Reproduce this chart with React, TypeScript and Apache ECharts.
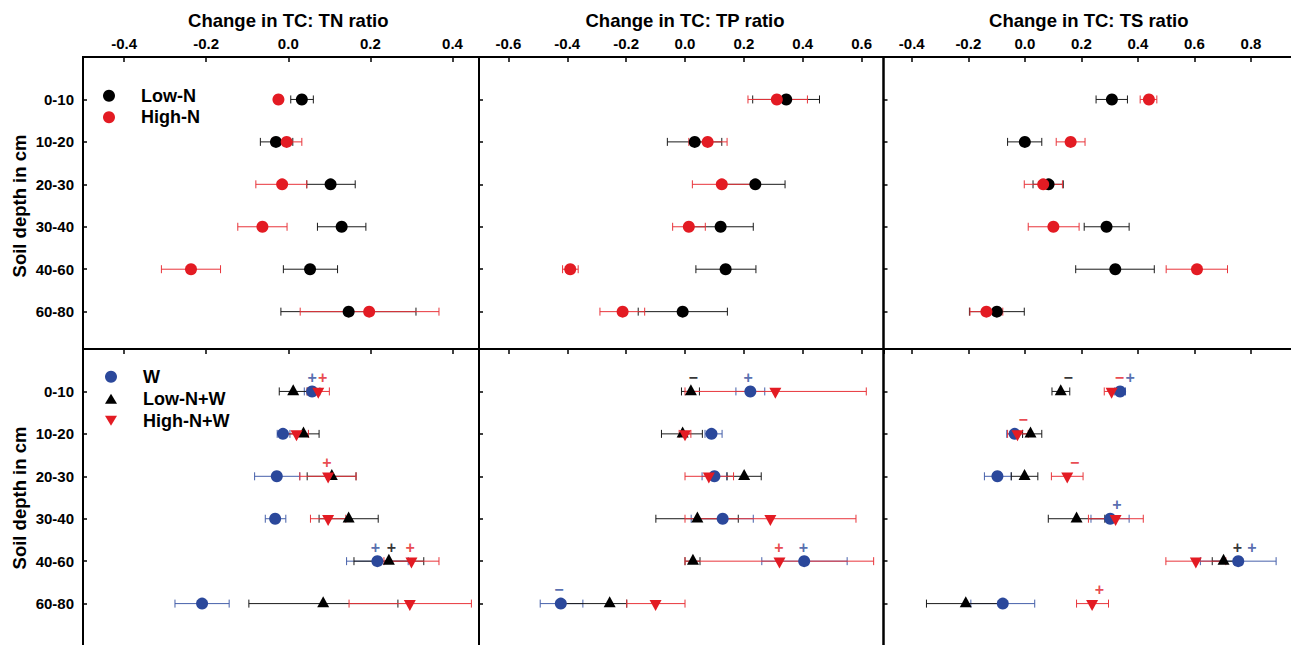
import React, { useEffect, useRef } from 'react';
import * as echarts from 'echarts';

const FONT = '"Liberation Sans", Arial, Helvetica, sans-serif';

// ---------- categories / labels ----------
const depths = ['0-10', '10-20', '20-30', '30-40', '40-60', '60-80'];
const depthPos = [1, 2, 3, 4, 5, 6];
const panelTitles = ['Change in TC: TN ratio', 'Change in TC: TP ratio', 'Change in TC: TS ratio'];
const yAxisTitle = 'Soil depth in cm';

// ---------- top row: N addition ----------
const tnLowN = [0.033, -0.030, 0.103, 0.130, 0.053, 0.147];
const tnLowNLo = [0.006, -0.068, 0.045, 0.071, -0.012, -0.018];
const tnLowNHi = [0.061, 0.011, 0.163, 0.189, 0.120, 0.311];
const tnHighN = [-0.024, -0.004, -0.015, -0.063, -0.237, 0.197];
const tnHighNLo = [-0.032, -0.040, -0.079, -0.123, -0.309, 0.029];
const tnHighNHi = [-0.016, 0.033, 0.045, -0.003, -0.165, 0.367];

const tpLowN = [0.344, 0.033, 0.239, 0.121, 0.138, -0.008];
const tpLowNLo = [0.230, -0.060, 0.138, 0.010, 0.037, -0.159];
const tpLowNHi = [0.457, 0.125, 0.340, 0.232, 0.241, 0.144];
const tpHighN = [0.312, 0.077, 0.125, 0.013, -0.390, -0.212];
const tpHighNLo = [0.214, 0.013, 0.025, -0.042, -0.416, -0.289];
const tpHighNHi = [0.416, 0.143, 0.225, 0.069, -0.363, -0.137];

const tsLowN = [0.308, 0.000, 0.084, 0.289, 0.320, -0.099];
const tsLowNLo = [0.252, -0.061, 0.029, 0.210, 0.180, -0.196];
const tsLowNHi = [0.363, 0.060, 0.136, 0.369, 0.458, -0.002];
const tsHighN = [0.439, 0.162, 0.065, 0.101, 0.609, -0.136];
const tsHighNLo = [0.408, 0.111, -0.002, 0.012, 0.500, -0.194];
const tsHighNHi = [0.467, 0.213, 0.133, 0.192, 0.717, -0.078];

// ---------- bottom row: water (+N) ----------
const tnW = [0.058, -0.013, -0.028, -0.032, 0.217, -0.210];
const tnWLo = [0.039, -0.027, -0.082, -0.056, 0.142, -0.276];
const tnWHi = [0.077, 0.004, 0.028, -0.006, 0.292, -0.144];
const tnLowNW = [0.012, 0.037, 0.106, 0.147, 0.245, 0.085];
const tnLowNWLo = [-0.022, -0.006, 0.046, 0.075, 0.160, -0.096];
const tnLowNWHi = [0.046, 0.075, 0.165, 0.219, 0.330, 0.267];
const tnHighNW = [0.073, 0.020, 0.097, 0.097, 0.300, 0.296];
const tnHighNWLo = [0.046, -0.009, 0.028, 0.054, 0.233, 0.148];
const tnHighNWHi = [0.100, 0.049, 0.165, 0.140, 0.367, 0.446];

const tpW = [0.222, 0.090, 0.100, 0.128, 0.405, -0.422];
const tpWLo = [0.173, 0.068, 0.058, 0.021, 0.261, -0.492];
const tpWHi = [0.271, 0.126, 0.142, 0.232, 0.551, -0.347];
const tpLowNW = [0.020, -0.008, 0.201, 0.042, 0.027, -0.256];
const tpLowNWLo = [-0.012, -0.080, 0.143, -0.099, 0.000, -0.412];
const tpLowNWHi = [0.049, 0.059, 0.259, 0.181, 0.051, -0.198];
const tpHighNW = [0.307, 0.000, 0.081, 0.290, 0.321, -0.100];
const tpHighNWLo = [0.000, -0.020, 0.000, 0.000, 0.000, -0.198];
const tpHighNWHi = [0.616, 0.020, 0.165, 0.581, 0.641, 0.000];

const tsW = [0.337, -0.036, -0.097, 0.302, 0.755, -0.078];
const tsWLo = [0.318, -0.064, -0.143, 0.234, 0.621, -0.191];
const tsWHi = [0.356, -0.008, -0.048, 0.369, 0.889, 0.035];
const tsLowNW = [0.127, 0.020, -0.001, 0.183, 0.703, -0.209];
const tsLowNWLo = [0.096, -0.008, -0.048, 0.083, 0.663, -0.348];
const tsLowNWHi = [0.159, 0.060, 0.046, 0.283, 0.743, -0.070];
const tsHighNW = [0.307, -0.026, 0.150, 0.321, 0.605, 0.238];
const tsHighNWLo = [0.281, -0.061, 0.094, 0.225, 0.499, 0.183];
const tsHighNWHi = [0.334, 0.012, 0.206, 0.419, 0.711, 0.296];

// significance marks: [x, depth position, sign, group]
const tnMarks: [number, number, string, string][] = [
  [0.058, 1, '+', 'W'], [0.084, 1, '+', 'High-N+W'], [0.094, 3, '+', 'High-N+W'],
  [0.212, 5, '+', 'W'], [0.251, 5, '+', 'Low-N+W'], [0.297, 5, '+', 'High-N+W'],
];
const tpMarks: [number, number, string, string][] = [
  [0.028, 1, '\u2212', 'Low-N+W'], [0.215, 1, '+', 'W'], [0.319, 5, '+', 'High-N+W'],
  [0.402, 5, '+', 'W'], [-0.428, 6, '\u2212', 'W'],
];
const tsMarks: [number, number, string, string][] = [
  [0.153, 1, '\u2212', 'Low-N+W'], [0.335, 1, '\u2212', 'High-N+W'], [0.373, 1, '+', 'W'],
  [-0.006, 2, '\u2212', 'High-N+W'], [0.176, 3, '\u2212', 'High-N+W'], [0.326, 4, '+', 'W'],
  [0.752, 5, '+', 'Low-N+W'], [0.803, 5, '+', 'W'], [0.264, 6, '+', 'High-N+W'],
];

// ---------- styling ----------
const RED = '#e31b23';
const BLUE = '#2b489b';
const BLACK = '#000000';
const styles: Record<string, any> = {
  'Low-N': { color: BLACK, err: '#1a1a1a', symbol: 'circle', size: 12, rotate: 0, off: 0 },
  'High-N': { color: RED, err: '#e8353b', symbol: 'circle', size: 12, rotate: 0, off: 0 },
  'W': { color: BLUE, err: '#4660aa', symbol: 'circle', size: 12, rotate: 0, off: 0 },
  'Low-N+W': { color: BLACK, err: '#1a1a1a', symbol: 'triangle', size: [12, 11], rotate: 0, off: -1.8 },
  'High-N+W': { color: RED, err: '#e8353b', symbol: 'triangle', size: [12, 11], rotate: 180, off: 1.8 },
};

const colLeft = [83, 479, 883.5];
const colWidth = [396, 404.5, 424];
const colMin = [-0.5, -0.7, -0.5];
const colMax = [0.4645, 0.6745, 1.0];
const rowTop = [57, 349];
const rowHeight = [292, 314];
const rowYMax = [6.88, 7.4];

type Group = { name: string; mean: number[]; lo: number[]; hi: number[] };
const panels: { row: number; col: number; groups: Group[]; marks: [number, number, string, string][] }[] = [
  { row: 0, col: 0, marks: [], groups: [
    { name: 'Low-N', mean: tnLowN, lo: tnLowNLo, hi: tnLowNHi },
    { name: 'High-N', mean: tnHighN, lo: tnHighNLo, hi: tnHighNHi }] },
  { row: 0, col: 1, marks: [], groups: [
    { name: 'Low-N', mean: tpLowN, lo: tpLowNLo, hi: tpLowNHi },
    { name: 'High-N', mean: tpHighN, lo: tpHighNLo, hi: tpHighNHi }] },
  { row: 0, col: 2, marks: [], groups: [
    { name: 'Low-N', mean: tsLowN, lo: tsLowNLo, hi: tsLowNHi },
    { name: 'High-N', mean: tsHighN, lo: tsHighNLo, hi: tsHighNHi }] },
  { row: 1, col: 0, marks: tnMarks, groups: [
    { name: 'W', mean: tnW, lo: tnWLo, hi: tnWHi },
    { name: 'Low-N+W', mean: tnLowNW, lo: tnLowNWLo, hi: tnLowNWHi },
    { name: 'High-N+W', mean: tnHighNW, lo: tnHighNWLo, hi: tnHighNWHi }] },
  { row: 1, col: 1, marks: tpMarks, groups: [
    { name: 'W', mean: tpW, lo: tpWLo, hi: tpWHi },
    { name: 'Low-N+W', mean: tpLowNW, lo: tpLowNWLo, hi: tpLowNWHi },
    { name: 'High-N+W', mean: tpHighNW, lo: tpHighNWLo, hi: tpHighNWHi }] },
  { row: 1, col: 2, marks: tsMarks, groups: [
    { name: 'W', mean: tsW, lo: tsWLo, hi: tsWHi },
    { name: 'Low-N+W', mean: tsLowNW, lo: tsLowNWLo, hi: tsLowNWHi },
    { name: 'High-N+W', mean: tsHighNW, lo: tsHighNWLo, hi: tsHighNWHi }] },
];

function buildOption() {
  const grid: any[] = [];
  const xAxis: any[] = [];
  const yAxis: any[] = [];
  const series: any[] = [];

  panels.forEach((p, i) => {
    grid.push({
      left: colLeft[p.col], top: rowTop[p.row], width: colWidth[p.col], height: rowHeight[p.row],
      show: true, borderColor: '#000', borderWidth: 2, backgroundColor: 'transparent',
      containLabel: false, outerBoundsMode: 'none',
    });
    xAxis.push({
      gridIndex: i, type: 'value', position: 'top', min: colMin[p.col], max: colMax[p.col],
      minInterval: 0.2, maxInterval: 0.2, splitLine: { show: false },
      axisLine: { show: false, onZero: false },
      axisTick: { show: true, inside: true, length: 5, lineStyle: { color: '#000', width: 1.5 } },
      axisLabel: {
        show: p.row === 0, margin: 6, showMinLabel: false, showMaxLabel: false,
        fontSize: 15, fontWeight: 'bold', color: '#000', fontFamily: FONT,
        formatter: (v: number) => v.toFixed(1),
      },
    });
    yAxis.push({
      gridIndex: i, type: 'value', position: 'left', inverse: true, min: 0, max: rowYMax[p.row], interval: 1,
      splitLine: { show: false }, axisLine: { show: false, onZero: false },
      axisTick: { show: true, inside: true, length: 4, lineStyle: { color: '#000', width: 1.5 } },
      axisLabel: {
        show: p.col === 0, margin: 9, showMinLabel: false, showMaxLabel: false,
        fontSize: 15, fontWeight: 'bold', color: '#000', fontFamily: FONT,
        formatter: (v: number) => (Number.isInteger(v) && v >= 1 && v <= depths.length ? depths[v - 1] : ''),
      },
    });

    p.groups.forEach((g) => {
      const st = styles[g.name];
      series.push({
        type: 'custom', xAxisIndex: i, yAxisIndex: i, silent: true, z: 2,
        encode: { x: [0, 1], y: 2 },
        data: g.lo.map((l, k) => [l, g.hi[k], depthPos[k]]),
        renderItem: (_params: any, api: any) => {
          const yv = api.value(2);
          const a = api.coord([api.value(0), yv]);
          const b = api.coord([api.value(1), yv]);
          const h = 4;
          const s = { stroke: st.err, lineWidth: 1 };
          return {
            type: 'group',
            children: [
              { type: 'line', shape: { x1: a[0], y1: a[1], x2: b[0], y2: b[1] }, style: s },
              { type: 'line', shape: { x1: a[0], y1: a[1] - h, x2: a[0], y2: a[1] + h }, style: s },
              { type: 'line', shape: { x1: b[0], y1: b[1] - h, x2: b[0], y2: b[1] + h }, style: s },
            ],
          };
        },
      });
      series.push({
        type: 'scatter', name: g.name, xAxisIndex: i, yAxisIndex: i, z: 3,
        symbol: st.symbol, symbolSize: st.size, symbolRotate: st.rotate, symbolOffset: [0, st.off],
        itemStyle: { color: st.color, opacity: 1 },
        emphasis: { disabled: true },
        data: g.mean.map((v, k) => [v, depthPos[k]]),
      });
    });

    if (p.marks.length) {
      series.push({
        type: 'scatter', xAxisIndex: i, yAxisIndex: i, z: 4, silent: true,
        symbol: 'circle', symbolSize: 1, itemStyle: { color: 'rgba(0,0,0,0)' },
        label: {
          show: true, position: 'inside', offset: [0, -14], formatter: '{b}',
          fontSize: 16, fontWeight: 'bold', fontFamily: FONT,
        },
        data: p.marks.map((m) => ({ name: m[2], value: [m[0], m[1]], label: { color: styles[m[3]].color } })),
      });
    }
  });

  const legendText = { fontSize: 18, fontWeight: 'bold', color: '#000', fontFamily: FONT, lineHeight: 18 };
  const legend = [
    {
      orient: 'vertical', left: 103, top: 86.7, padding: 0, itemWidth: 54, itemHeight: 12, itemGap: 3.6,
      selectedMode: false, symbolRotate: 0, textStyle: legendText,
      data: [{ name: 'Low-N', icon: 'circle' }, { name: 'High-N', icon: 'circle' }],
    },
    {
      orient: 'vertical', left: 105, top: 367.7, padding: 0, itemWidth: 54, itemHeight: 12, itemGap: 4,
      selectedMode: false, symbolRotate: 0, textStyle: legendText,
      data: [
        { name: 'W', icon: 'circle' },
        { name: 'Low-N+W', icon: 'path://M6,-1L6,-1M6,0L12,10L0,10ZM6,11L6,11' },
        { name: 'High-N+W', icon: 'path://M6,-1L6,-1M0,0L12,0L6,10ZM6,11L6,11' },
      ],
    },
  ];

  const titleX = [288.3, 685, 1088.8];
  const graphic: any[] = panelTitles.map((t, k) => ({
    type: 'text', x: titleX[k], y: 20, silent: true,
    style: { text: t, fill: '#000', font: `bold 18.5px ${FONT}`, align: 'center', verticalAlign: 'middle' },
  }));
  [206, 498].forEach((yc) => {
    graphic.push({
      type: 'text', x: 19, y: yc, rotation: Math.PI / 2, silent: true,
      style: { text: yAxisTitle, fill: '#000', font: `bold 18.5px ${FONT}`, align: 'center', verticalAlign: 'middle' },
    });
  });

  return {
    animation: false,
    backgroundColor: '#ffffff',
    textStyle: { fontFamily: FONT },
    grid, xAxis, yAxis, series, legend, graphic,
  };
}

export default function App() {
  const ref = useRef<HTMLDivElement>(null);
  useEffect(() => {
    document.body.style.margin = '0';
    const chart = echarts.init(ref.current!, null, { renderer: 'svg' });
    chart.setOption(buildOption() as any);
    return () => chart.dispose();
  }, []);
  return (
    <div style={{ width: 1291, height: 645, overflow: 'hidden', position: 'relative' }}>
      <div ref={ref} style={{ width: 1330, height: 690 }} />
    </div>
  );
}
